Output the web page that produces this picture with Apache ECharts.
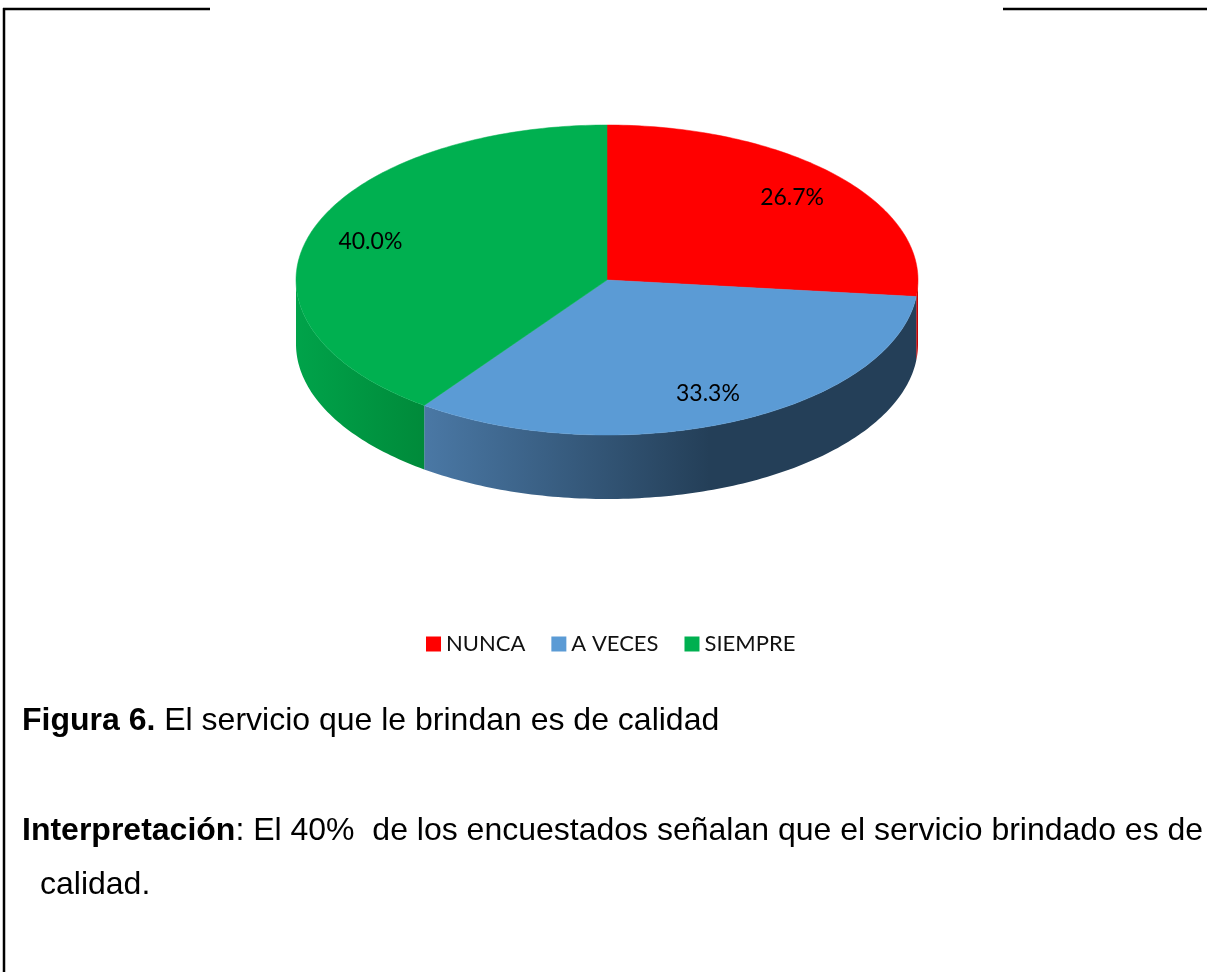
<!DOCTYPE html>
<html>
<head>
<meta charset="utf-8">
<script src="https://cdn.jsdelivr.net/npm/echarts@6/dist/echarts.min.js"></script>
<style>
html,body{margin:0;padding:0;background:#fff;}
#chart{width:1207px;height:972px;}
</style>
</head>
<body>
<div id="chart"></div>
<script>
// ---- data ----
const categories = ['NUNCA', 'A VECES', 'SIEMPRE'];
const values = [26.7, 33.3, 40.0];
const labels = ['26.7%', '33.3%', '40.0%'];
const captionTitle = 'Figura 6.';
const captionText = ' El servicio que le brindan es de calidad';
const interpTitle = 'Interpretación';
const interpText1 = ': El 40%  de los encuestados señalan que el servicio brindado es de';
const interpText2 = 'calidad.';

// ---- styles ----
const topColors = ['#ff0000', '#5b9bd5', '#00b050'];
const sideColors = [
  ['#c80000', '#c80000'],
  ['#4a78a5', '#243f58'],
  ['#00a34a', '#008a3a']
];

const chart = echarts.init(document.getElementById('chart'), null, {renderer: 'canvas'});

const total = values.reduce((a, b) => a + b, 0);
const starts = [];
let acc = 0;
values.forEach(v => { starts.push(acc); acc += v; });

const CX = 607, CY = 280, RX = 311, RY = 155, DEPTH = 64;

function pt(phi, dy) {
  return [CX + RX * Math.cos(phi), CY + RY * Math.sin(phi) + (dy || 0)];
}
function arcPts(a, b, dy) {
  const n = Math.max(8, Math.ceil(Math.abs(b - a) / (Math.PI / 180)));
  const out = [];
  for (let i = 0; i <= n; i++) out.push(pt(a + (b - a) * i / n, dy));
  return out;
}

function makeRender(idx) {
  return function (params, api) {
    const v = api.value(0);
    const a = -Math.PI / 2 + starts[idx] / total * Math.PI * 2;
    const b = a + v / total * Math.PI * 2;
    const children = [];
    // front side wall
    const s = Math.max(a, 0), e = Math.min(b, Math.PI);
    if (e > s) {
      const pts = arcPts(s, e, 0).concat(arcPts(e, s, DEPTH));
      children.push({
        type: 'polygon',
        shape: {points: pts},
        style: {
          fill: new echarts.graphic.LinearGradient(0, 0, 1, 0, [
            {offset: 0, color: sideColors[idx][0]},
            {offset: idx === 1 ? 0.58 : 1, color: sideColors[idx][1]},
            {offset: 1, color: sideColors[idx][1]}
          ]),
          stroke: null
        },
        z2: 1
      });
    }
    // top face
    const topPts = [[CX, CY]].concat(arcPts(a, b, 0));
    children.push({
      type: 'polygon',
      shape: {points: topPts},
      style: {fill: topColors[idx], stroke: topColors[idx], lineWidth: 0.5},
      z2: 2
    });
    // label
    const m = (a + b) / 2;
    const k = 0.8;
    children.push({
      type: 'text',
      x: CX + RX * k * Math.cos(m),
      y: CY + RY * k * Math.sin(m),
      style: {
        text: labels[idx],
        fill: '#000',
        font: '23px Lato',
        align: 'center',
        verticalAlign: 'middle'
      },
      z2: 3
    });
    return {type: 'group', children: children};
  };
}

const series = categories.map((name, i) => ({
  type: 'custom',
  name: name,
  coordinateSystem: 'none',
  itemStyle: {color: topColors[i]},
  data: [[values[i]]],
  renderItem: makeRender(i),
  silent: true
}));

const capFont = '32px "Liberation Sans"';
const boldRich = {b: {fontWeight: 'bold', fontFamily: 'Liberation Sans', fontSize: 32, fill: '#000'}};

chart.setOption({
  animation: false,
  backgroundColor: '#fff',
  legend: {
    data: categories,
    top: 628,
    left: 421,
    icon: 'rect',
    itemWidth: 15,
    itemHeight: 15,
    itemGap: 26,
    textStyle: {fontFamily: 'Lato', fontSize: 22, color: '#111'}
  },
  series: series,
  graphic: [
    {type: 'line', shape: {x1: 4, y1: 8, x2: 4, y2: 972}, style: {stroke: '#000', lineWidth: 2.5}},
    {type: 'line', shape: {x1: 3, y1: 9, x2: 210, y2: 9}, style: {stroke: '#000', lineWidth: 2.5}},
    {type: 'line', shape: {x1: 1003, y1: 9, x2: 1207, y2: 9}, style: {stroke: '#000', lineWidth: 2.5}},
    {
      type: 'text', x: 22, y: 721,
      style: {
        text: '{b|' + captionTitle + '}' + captionText,
        rich: boldRich, font: capFont, fill: '#000', verticalAlign: 'middle'
      }
    },
    {
      type: 'text', x: 22, y: 831,
      style: {
        text: '{b|' + interpTitle + '}' + interpText1,
        rich: boldRich, font: capFont, fill: '#000', verticalAlign: 'middle'
      }
    },
    {
      type: 'text', x: 40, y: 885,
      style: {text: interpText2, font: capFont, fill: '#000', verticalAlign: 'middle'}
    }
  ]
});
</script>
</body>
</html>
